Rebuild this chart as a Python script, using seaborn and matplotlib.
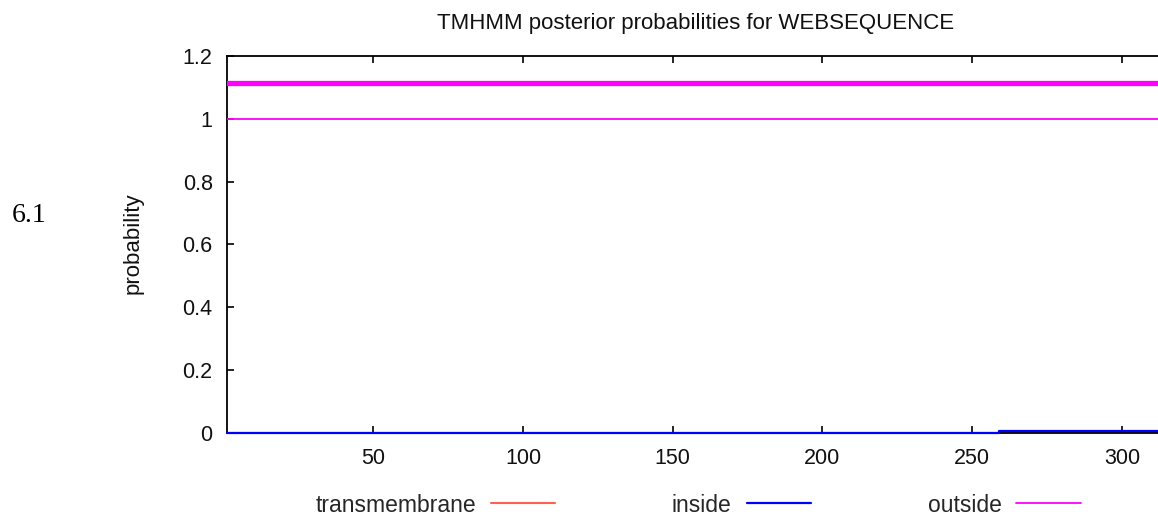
import matplotlib
matplotlib.use("Agg")
import matplotlib.pyplot as plt
import seaborn as sns
import pandas as pd
from matplotlib.ticker import FormatStrFormatter

# ---- data ----
positions = [1, 259, 320]
transmembrane = [0.0, 0.0, 0.0]
inside = [0.0, 0.004, 0.004]
outside = [1.0, 1.0, 1.0]
topology_pos = [1, 320]
topology_level = [1.115, 1.115]

x_ticks = [50, 100, 150, 200, 250, 300]
y_ticks = [0, 0.2, 0.4, 0.6, 0.8, 1.0, 1.2]

sns.set_theme(style="white")
plt.rcParams['font.family'] = ['Liberation Sans', 'DejaVu Sans']

fig = plt.figure(figsize=(11.58, 5.17), dpi=100)
W, H = 1158, 517
ax = fig.add_axes([226.6 / W, 1 - 432.7 / H, 319 * 2.994 / W, (432.7 - 56) / H])

df = pd.DataFrame({"pos": positions, "tm": transmembrane, "inside": inside, "outside": outside})
dtopo = pd.DataFrame({"pos": topology_pos, "lvl": topology_level})

sns.lineplot(data=df, x="pos", y="tm", ax=ax, color="#ff6050", lw=1.5,
             drawstyle="steps-post", estimator=None, label="transmembrane", zorder=1)
sns.lineplot(data=df, x="pos", y="inside", ax=ax, color="#0000ff", lw=1.6,
             drawstyle="steps-post", estimator=None, label="inside", zorder=3.5, clip_on=False)
sns.lineplot(data=df, x="pos", y="outside", ax=ax, color="#ff00ff", lw=1.3,
             drawstyle="steps-post", estimator=None, label="outside", zorder=3)
sns.lineplot(data=dtopo, x="pos", y="lvl", ax=ax, color="#ff00ff", lw=3.8,
             estimator=None, legend=False, zorder=3)

ax.set_xlim(1, 320)
ax.set_ylim(0, 1.2)
ax.set_xticks(x_ticks)
ax.set_yticks(y_ticks)
ax.yaxis.set_major_formatter(FormatStrFormatter('%g'))
ax.tick_params(axis='both', direction='in', length=5, width=1.2, color='black',
               labelsize=15.5, labelcolor='#111111', top=True, bottom=True, left=True)
ax.tick_params(axis='y', pad=10)
ax.tick_params(axis='x', pad=11)
for s in ax.spines.values():
    s.set_color('black')
    s.set_linewidth(1.3)
ax.set_xlabel("")
ax.set_ylabel("probability", fontsize=16, va='center', color='#111111')
ax.yaxis.set_label_coords((133 - 226.6) / (319 * 2.994), (432.7 - 243) / (432.7 - 56))

h, l = ax.get_legend_handles_labels()
ax.get_legend().remove()
fig.legend(h, l, loc='center', bbox_to_anchor=(698 / W, 1 - 505 / H), ncol=3,
           frameon=False, markerfirst=False, fontsize=16.5, handlelength=2.8,
           handletextpad=0.65, columnspacing=5.1, borderpad=0.1)

fig.text(696 / W, 1 - 24 / H, "TMHMM posterior probabilities for WEBSEQUENCE",
         ha='center', va='center', fontsize=16, color='#111111')
fig.text(12 / W, 1 - 215 / H, "6.1", ha='left', va='center', fontsize=20,
         family=['Liberation Serif', 'DejaVu Serif'], color='black')

fig.savefig("out.png", dpi=100)
